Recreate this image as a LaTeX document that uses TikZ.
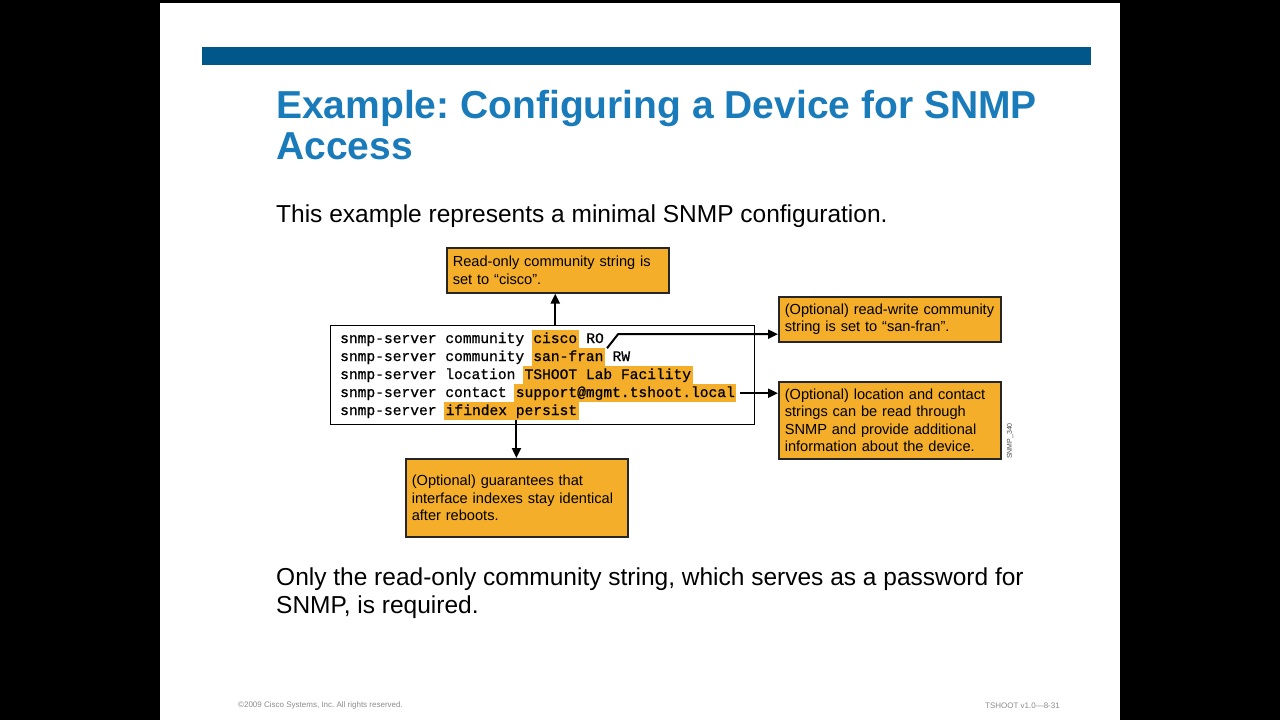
\documentclass[tikz,border=0pt]{standalone}
\usepackage{fontspec}
\setmainfont{Liberation Sans}
\setmonofont[FakeBold=0.8]{Liberation Mono}
\usetikzlibrary{arrows.meta,positioning}
\definecolor{barblue}{HTML}{02578A}
\definecolor{titleblue}{HTML}{1A7BBA}
\definecolor{notefill}{HTML}{F4AE2A}
\newcommand{\gap}{7.26pt}
\frenchspacing
\begin{document}
\begin{tikzpicture}[x=1pt,y=-1pt,
  note/.style={rectangle,draw=black!85,line width=1.6pt,fill=notefill,anchor=north west,
    align=left,inner xsep=6pt,inner ysep=0pt,text width=210pt,minimum width=222pt,
    font=\fontsize{14.6}{17.5}\selectfont},
  cfg/.style={inner sep=0pt,text height=12.6pt,text depth=5pt,
    font=\fontsize{14.6}{17.5}\selectfont\ttfamily},
  hl/.style={cfg,fill=notefill,inner xsep=1.5pt},
  arr/.style={-{Triangle[length=10pt,width=9pt]},line width=2pt}]
\useasboundingbox (0,0) rectangle (1280,720);
% slide
\fill[black] (0,0) rectangle (1280,720);
\fill[white] (160,3) rectangle (1120,720);
\fill[barblue] (202,47) rectangle (1091,65);
\path (276,159) node(title)[anchor=base west,inner sep=0pt,align=left,text=titleblue,
    font=\fontsize{39}{41}\selectfont\bfseries]{Example: Configuring a Device for SNMP\\Access}
(276,222) node(sub)[anchor=base west,inner sep=0pt,font=\fontsize{24.5}{28}\selectfont]
    {This example represents a minimal SNMP configuration.}
(276,613) node(foot)[anchor=base west,inner sep=0pt,align=left,font=\fontsize{24.5}{27.5}\selectfont]
    {Only the read-only community string, which serves as a password for\\SNMP, is required.};

% config lines
\node (conf) [draw,line width=1.4pt,anchor=north west,minimum width=424pt,minimum height=99pt] at (330,325) {};
\node (l1) [cfg,anchor=base west] at (340,343) {snmp-server community};
\node (cisco) [hl,right=\gap of l1] {cisco};
\node (ro) [cfg,right=\gap of cisco] {RO};
\node (l2) [cfg,below=0pt of l1.south west,anchor=north west] {snmp-server community};
\node (sanfran) [hl,right=\gap of l2] {san-fran};
\node (rw) [cfg,right=\gap of sanfran] {RW};
\node (l3) [cfg,below=0pt of l2.south west,anchor=north west] {snmp-server location};
\node (loc) [hl,right=\gap of l3] {TSHOOT Lab Facility};
\node (l4) [cfg,below=0pt of l3.south west,anchor=north west] {snmp-server contact};
\node (contact) [hl,right=\gap of l4] {support@mgmt.tshoot.local};
\node (l5) [cfg,below=0pt of l4.south west,anchor=north west] {snmp-server};
\node (ifx) [hl,right=\gap of l5] {ifindex persist};

% callouts
\node (a) [note,minimum height=45pt] at (446,247) {Read-only community string is\\set to “cisco”.};
\node (b) [note,minimum height=45pt] at (778,296) {(Optional) read-write community\\string is set to “san-fran”.};
\node (c) [note,minimum height=77pt] at (778,381) {(Optional) location and contact\\strings can be read through\\SNMP and provide additional\\information about the device.};
\node (d) [note,minimum height=78pt] at (405,458) {(Optional) guarantees that\\interface indexes stay identical\\after reboots.};

\draw[arr] (conf.north -| cisco) -- (a.south -| cisco);
\draw[arr] ([xshift=3pt]ro.south east) -- ++(11,-14) coordinate (k) -- (k -| b.west);
\draw[arr] ([xshift=3pt]contact.east) -- (contact.east -| c.west);
\draw[arr] ([xshift=5pt]ifx.south) -- ([xshift=5pt]ifx.south |- d.north);

\node (fig) [rotate=90,inner sep=0pt,text=black!70,font=\fontsize{7}{7}\selectfont] at (1010,441) {SNMP\_340};
\node (copy) [anchor=base west,inner sep=0pt,text=black!45,font=\fontsize{8}{8}\selectfont] at (238,707) {©2009 Cisco Systems, Inc. All rights reserved.};
\node (ver) [anchor=base east,inner sep=0pt,text=black!45,font=\fontsize{8}{8}\selectfont] at (1060,708) {TSHOOT v1.0—8-31};
\end{tikzpicture}
\end{document}
